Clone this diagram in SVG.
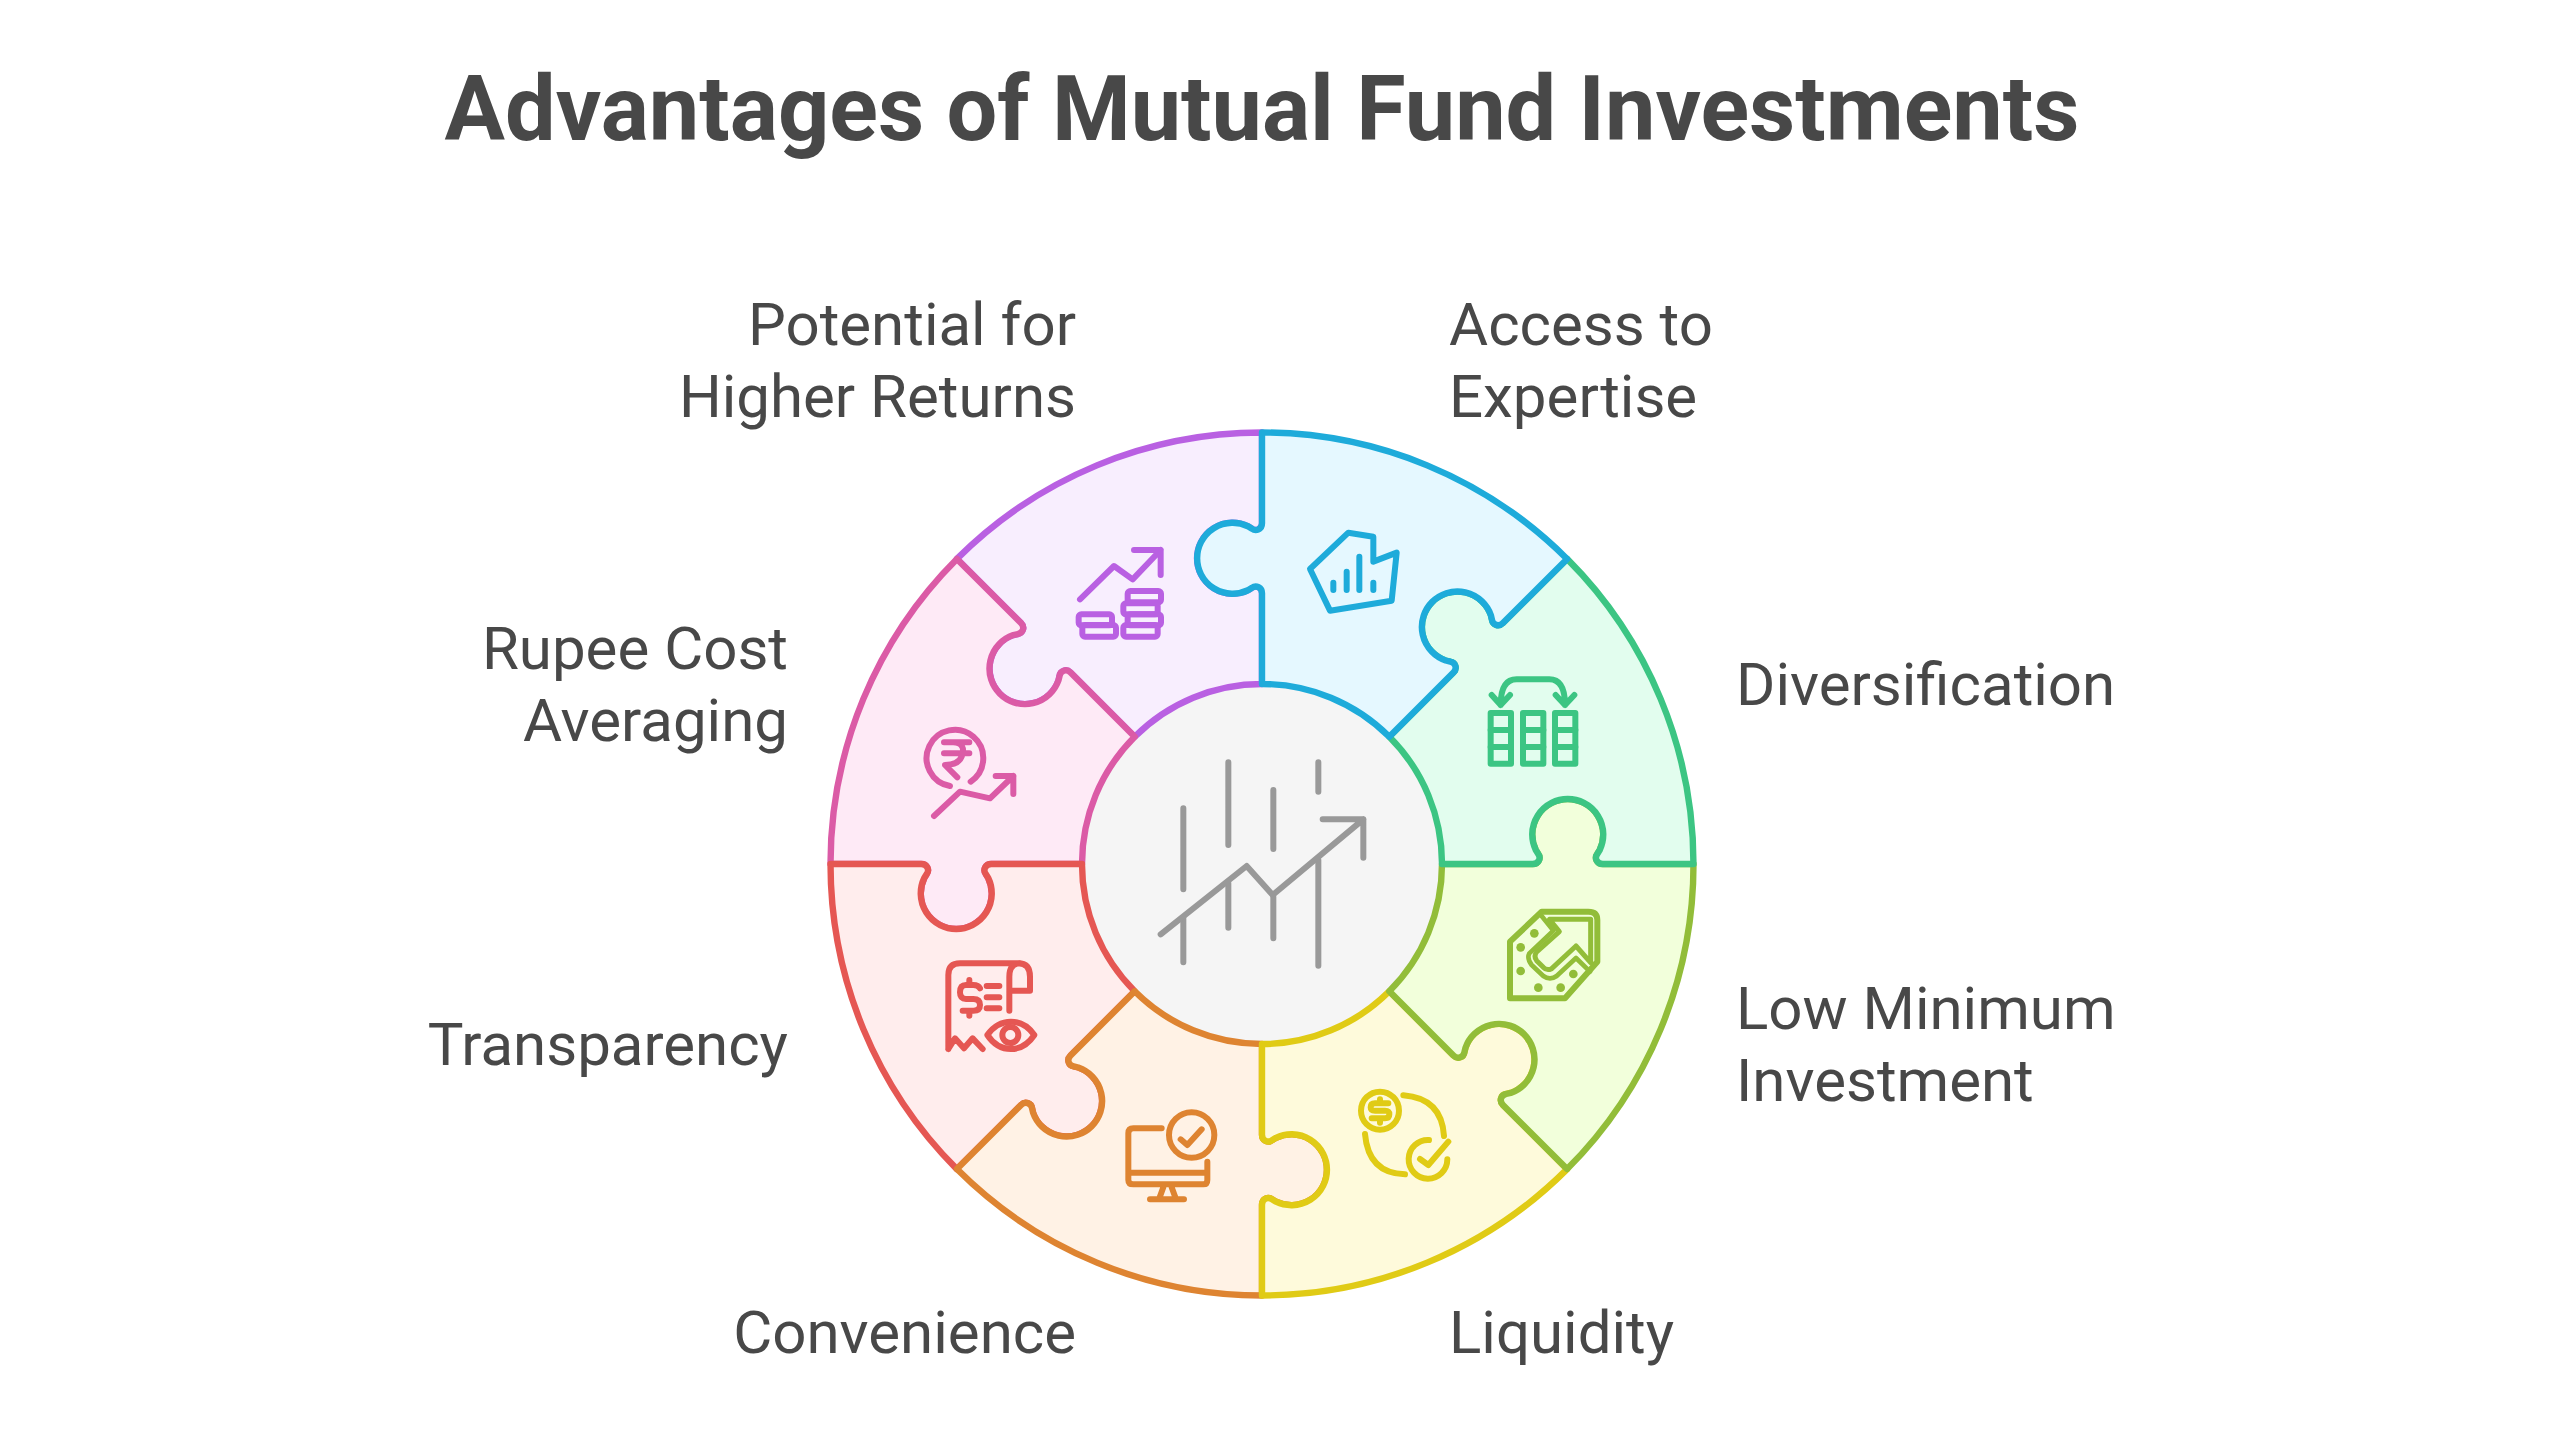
<svg xmlns="http://www.w3.org/2000/svg" xmlns:xlink="http://www.w3.org/1999/xlink" width="2560" height="1440" viewBox="0 0 2560 1440">
<style>
text{font-family:Roboto,"Liberation Sans",sans-serif;fill:#484848}
.title{font-size:90px;font-weight:700;text-anchor:middle}
.l{font-size:60px}
.r{text-anchor:end}
.piece{stroke-width:6.4;stroke-linejoin:round}
.ic{fill:none;stroke-width:18;stroke-linecap:round;stroke-linejoin:round}
</style>
<defs>
<path id="piece" d="M1262 432.5A431.5 431.5 0 0 1 1567.1 558.9L1502.95 623.05C1498.7 627.3 1492.7 624.8 1492 619.9L1490.9 615.3A35.5 35.5 0 1 0 1445.7 660.5L1450.3 661.6C1455.2 662.3 1457.7 668.3 1453.45 672.55L1389.3 736.7A180 180 0 0 0 1262 684V593.25C1262 587.25 1256 584.75 1252 587.75L1248 590.25A35.5 35.5 0 1 1 1248 526.25L1252 528.75C1256 531.75 1262 529.25 1262 523.25Z"/>
</defs>
<rect width="2560" height="1440" fill="#fff"/>
<text class="title" x="1262" y="140">Advantages of Mutual Fund Investments</text>
<g id="center">
<circle cx="1262" cy="864" r="180" fill="#f5f5f5"/>
<g class="ic" stroke="#999" transform="translate(1100 700) scale(.33333)">
<path d="M250 325V568M385 187V435M520 270V447M655 187V275M250 655V787M385 550V683M520 590V715M655 480V797"/>
<path d="M182 703L440 498L518 585L790 358M668 358H790V473"/>
</g>
</g>
<g id="potential-for-higher-returns">
<use href="#piece" class="piece" fill="#f8eefe" stroke="#b960e2" transform="rotate(315 1262 864)"/>
<g class="ic" stroke="#b960e2" transform="translate(1050 520) scale(.33333)">
<path d="M90 238L192 138L248 178L332 90M252 90H332V165"/>
<rect x="233" y="213" width="100" height="34" rx="8"/><rect x="220" y="250" width="103" height="33" rx="8"/><rect x="233" y="283" width="100" height="33" rx="8"/><rect x="220" y="315" width="103" height="35" rx="8"/>
<rect x="86" y="283" width="100" height="33" rx="8"/><rect x="97" y="315" width="101" height="35" rx="8"/>
</g>
<text class="l r" x="1076"><tspan x="1076" y="345">Potential for</tspan><tspan x="1076" y="417">Higher Returns</tspan></text>
</g>
<g id="rupee-cost-averaging">
<use href="#piece" class="piece" fill="#feeaf6" stroke="#db5ba6" transform="rotate(270 1262 864)"/>
<g class="ic" stroke="#db5ba6" transform="translate(820 540) scale(.33333)">
<path d="M390 738A85 85 0 1 1 452 725"/>
<path d="M342 828L420 755L510 775L580 708M527 708H580V762"/>
<path d="M372 607H448M372 640H448M400 607Q440 610 425 650Q415 675 375 675L412 712"/>
</g>
<text class="l r" x="788"><tspan x="788" y="669">Rupee Cost</tspan><tspan x="788" y="741">Averaging</tspan></text>
</g>
<g id="transparency">
<use href="#piece" class="piece" fill="#ffeded" stroke="#e55753" transform="rotate(225 1262 864)"/>
<g class="ic" stroke="#e55753" transform="translate(930 950) scale(.33333)">
<path d="M55 297V75Q55 40 90 40H265Q300 40 300 80V122H238M238 182V80Q238 40 270 40M55 297L75 265L102 295L128 265L158 297"/>
<path d="M150 115Q145 105 130 105H108Q90 105 90 127Q90 147 108 147H130Q150 147 150 165Q150 182 130 182H98M118 90V105M118 182V197M170 108H208M170 142H208M170 175H208"/>
<path d="M172 255Q200 215 243 215Q285 215 313 255Q285 297 243 297Q200 297 172 255Z"/>
<circle cx="241" cy="255" r="24"/>
</g>
<text class="l r" x="788" y="1065">Transparency</text>
</g>
<g id="convenience">
<use href="#piece" class="piece" fill="#fff2e5" stroke="#de8431" transform="rotate(180 1262 864)"/>
<g class="ic" stroke="#de8431" transform="translate(1110 1090) scale(.33333)">
<path d="M155 115H70Q55 115 55 130V270Q55 283 70 283H280Q292 283 292 270V215M55 248H292M160 292L148 325M185 292L197 325M120 328H222"/>
<circle cx="245" cy="135" r="68"/>
<path d="M212 148L232 165L275 118"/>
</g>
<text class="l r" x="1076" y="1353">Convenience</text>
</g>
<g id="liquidity">
<use href="#piece" class="piece" fill="#fefadb" stroke="#e0cb15" transform="rotate(135 1262 864)"/>
<g class="ic" stroke="#e0cb15" transform="translate(1240 840) scale(.33333)">
<circle cx="420" cy="812" r="57"/>
<path d="M445 790H405Q392 790 392 802Q392 812 405 812H435Q448 812 448 823Q448 835 435 835H395M420 778V790M420 835V848"/>
<path d="M490 766Q605 775 612 888M375 882Q385 1000 495 1003"/>
<path d="M567 900A58 58 0 1 0 622 958M540 957L565 975L625 905"/>
</g>
<text class="l" x="1449" y="1353">Liquidity</text>
</g>
<g id="low-minimum-investment">
<use href="#piece" class="piece" fill="#f2ffdb" stroke="#92bd39" transform="rotate(90 1262 864)"/>
<g class="ic" stroke="#92bd39" transform="translate(1490 890) scale(.33333)">
<path d="M60 155L155 65H295Q322 65 322 90V215L225 325H60Z"/>
<path d="M178 88H302V218L258 168L185 236Q170 243 160 232L140 212Q130 198 140 186L208 125Z" stroke-width="15"/>
<path d="M155 78L190 122L118 190Q110 205 125 225L160 258Q180 272 200 258L258 204L300 245" stroke-width="14"/>
<g fill="#92bd39" stroke="none"><circle cx="133" cy="130" r="13"/><circle cx="92" cy="172" r="13"/><circle cx="92" cy="243" r="13"/><circle cx="145" cy="293" r="13"/><circle cx="212" cy="293" r="13"/><circle cx="250" cy="252" r="13"/></g>
</g>
<text class="l" x="1736"><tspan x="1736" y="1029">Low Minimum</tspan><tspan x="1736" y="1101">Investment</tspan></text>
</g>
<g id="diversification">
<use href="#piece" class="piece" fill="#e2fdee" stroke="#3cc583" transform="rotate(45 1262 864)"/>
<g class="ic" stroke="#3cc583" transform="translate(1470 650) scale(.33333)">
<rect x="62" y="189" width="61" height="152"/><rect x="159" y="189" width="61" height="152"/><rect x="255" y="189" width="61" height="152"/>
<path d="M62 240H123M62 291H123M159 240H220M159 291H220M255 240H316M255 291H316"/>
<path d="M92 165Q92 88 140 88H238Q285 88 285 165M65 135L92 165L120 135M257 135L285 165L313 135"/>
</g>
<text class="l" x="1736" y="705">Diversification</text>
</g>
<g id="access-to-expertise">
<use href="#piece" class="piece" fill="#e5f8ff" stroke="#1eabda"/>
<g class="ic" stroke="#1eabda" transform="translate(1290 510) scale(.33333)">
<path d="M60 177L175 68L250 80V155L320 128L305 272L120 302Z"/>
<path d="M130 218V240M170 185V240M208 140V240M250 218V240"/>
</g>
<text class="l" x="1449"><tspan x="1449" y="345">Access to</tspan><tspan x="1449" y="417">Expertise</tspan></text>
</g>
</svg>
